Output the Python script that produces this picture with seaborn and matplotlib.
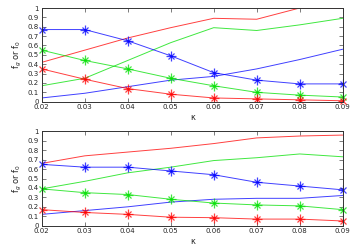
import matplotlib
matplotlib.use("Agg")
import matplotlib.pyplot as plt
import seaborn as sns
import pandas as pd

sns.set_theme(style="white")
plt.rcParams['font.family'] = ['DejaVu Sans']

kappa = [0.02, 0.03, 0.04, 0.05, 0.06, 0.07, 0.08, 0.09]

# Top panel
top_red_line = [0.42, 0.55, 0.68, 0.79, 0.89, 0.88, 1.00, 1.00]
top_green_line = [0.17, 0.25, 0.44, 0.63, 0.79, 0.76, 0.82, 0.89]
top_blue_line = [0.04, 0.09, 0.16, 0.23, 0.27, 0.35, 0.45, 0.56]
top_blue_star = [0.77, 0.77, 0.65, 0.49, 0.31, 0.23, 0.19, 0.19]
top_green_star = [0.55, 0.44, 0.35, 0.25, 0.17, 0.10, 0.07, 0.05]
top_red_star = [0.35, 0.24, 0.14, 0.08, 0.04, 0.03, 0.02, 0.01]

# Bottom panel
bot_red_line = [0.66, 0.74, 0.78, 0.82, 0.87, 0.93, 0.95, 0.96]
bot_green_line = [0.39, 0.47, 0.56, 0.62, 0.69, 0.72, 0.76, 0.73]
bot_blue_line = [0.12, 0.16, 0.20, 0.25, 0.28, 0.29, 0.29, 0.32]
bot_blue_star = [0.65, 0.62, 0.62, 0.58, 0.54, 0.46, 0.42, 0.38]
bot_green_star = [0.39, 0.35, 0.33, 0.28, 0.24, 0.22, 0.21, 0.17]
bot_red_star = [0.17, 0.14, 0.12, 0.09, 0.085, 0.07, 0.07, 0.05]

yticks = [0, 0.1, 0.2, 0.3, 0.4, 0.5, 0.6, 0.7, 0.8, 0.9, 1]
ytick_labels = ["0", "0.1", "0.2", "0.3", "0.4", "0.5", "0.6", "0.7", "0.8", "0.9", "1"]
xtick_labels = ["0.02", "0.03", "0.04", "0.05", "0.06", "0.07", "0.08", "0.09"]

RED, GREEN, BLUE = "#ff0000", "#00e000", "#0000ff"

fig = plt.figure(figsize=(3.54, 2.48), dpi=100)
ax1 = fig.add_axes([41.7/354, 1 - 101.7/248, (342.7-41.7)/354, (101.7-8)/248])
ax2 = fig.add_axes([41.7/354, 1 - 225.7/248, (342.7-41.7)/354, (225.7-131.3)/248])

def draw(ax, lines, stars):
    for vals, c in lines:
        sns.lineplot(x=kappa, y=vals, ax=ax, color=c, lw=0.7, alpha=0.75)
    for vals, c in stars:
        sns.lineplot(x=kappa, y=vals, ax=ax, color=c, lw=0.7, alpha=0.75,
                     marker="+", markersize=7, markeredgewidth=0.9,
                     markeredgecolor=c)
        ax.plot(kappa, vals, linestyle="none", marker="x", markersize=5,
                markeredgewidth=0.9, color=c, alpha=0.75, clip_on=False)
    ax.set_xlim(0.02, 0.09)
    ax.set_ylim(0, 1)
    ax.set_xticks(kappa)
    ax.set_xticklabels(xtick_labels)
    ax.set_yticks(yticks)
    ax.set_yticklabels(ytick_labels)
    ax.tick_params(direction="in", length=3, width=0.6, labelsize=5, pad=2,
                   top=True, right=True, bottom=True, left=True, color="#666666")
    for s in ax.spines.values():
        s.set_linewidth(0.7)
        s.set_color("#333333")
    ax.set_xlabel("κ", fontsize=6, labelpad=2)
    ax.set_ylabel("f$_g$ or f$_0$", fontsize=6, labelpad=3)

draw(ax1,
     [(top_red_line, RED), (top_green_line, GREEN), (top_blue_line, BLUE)],
     [(top_blue_star, BLUE), (top_green_star, GREEN), (top_red_star, RED)])
draw(ax2,
     [(bot_red_line, RED), (bot_green_line, GREEN), (bot_blue_line, BLUE)],
     [(bot_blue_star, BLUE), (bot_green_star, GREEN), (bot_red_star, RED)])

fig.savefig("out.png", dpi=100)
